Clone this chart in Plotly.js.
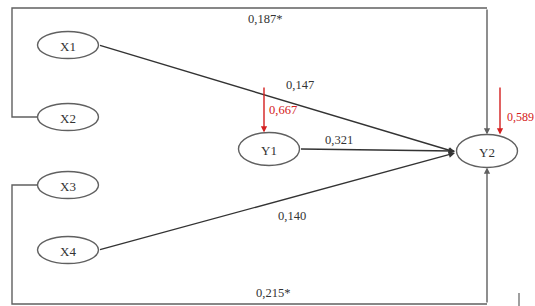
<!DOCTYPE html>
<html>
<head>
<meta charset="utf-8">
<script src="https://cdn.plot.ly/plotly-3.0.1.min.js"></script>
<style>html,body{margin:0;padding:0;background:#fff;overflow:hidden;}#chart{width:535px;height:306px;}</style>
</head>
<body>
<div id="chart"></div>
<script>
// ---- data ----
const nodeNames = ['X1', 'X2', 'X3', 'X4', 'Y1', 'Y2'];
const pathFrom = ['X2', 'X1', 'Y1', 'X4', 'X3'];
const pathTo = ['Y2', 'Y2', 'Y2', 'Y2', 'Y2'];
const pathCoef = ['0,187*', '0,147', '0,321', '0,140', '0,215*'];
const errorNodes = ['Y1', 'Y2'];
const errorCoef = ['0,667', '0,589'];

// ---- layout geometry ----
const pos = {
  X1: [68, 45], X2: [68, 117], X3: [68, 185], X4: [68, 250],
  Y1: [269, 149], Y2: [487, 151]
};
const radii = {X1: [30.5, 13.5], X2: [30.5, 13.5], X3: [30.5, 13.5], X4: [30.5, 13.5], Y1: [30.5, 16.5], Y2: [30.5, 16.5]};
const lineColor = '#606060';
const textColor = '#333';
const serif = 'Liberation Serif, Times New Roman, serif';

const shapes = [];
const annotations = [];
const traces = [];

nodeNames.forEach(n => {
  const [cx, cy] = pos[n];
  const [rx, ry] = radii[n];
  shapes.push({type: 'circle', xref: 'x', yref: 'y', x0: cx - rx, x1: cx + rx, y0: cy - ry, y1: cy + ry,
    line: {color: lineColor, width: 1.4}, fillcolor: 'rgba(0,0,0,0)'});
  annotations.push({x: cx, y: cy + 1, text: n, showarrow: false, font: {family: serif, size: 13, color: textColor}});
});

function seg(xs, ys, w) {
  traces.push({x: xs, y: ys, mode: 'lines', line: {color: lineColor, width: w || 1.4}, hoverinfo: 'skip', showlegend: false});
}
function arrow(tx, ty, hx, hy, color, size) {
  annotations.push({x: hx, y: hy, ax: tx, ay: ty, axref: 'x', ayref: 'y', xref: 'x', yref: 'y', text: '',
    showarrow: true, arrowhead: 2, arrowsize: size || 1, arrowwidth: 1.4, arrowcolor: color, standoff: 0});
}
function label(x, y, t, color, anchor, size) {
  annotations.push({x: x, y: y, text: t, showarrow: false, xanchor: anchor || 'center',
    font: {family: serif, size: size || 12.5, color: color || textColor}});
}

const conv = [455, 152];
const topY = 8, botY = 304, leftX = 12;

pathFrom.forEach((f, i) => {
  const [fx, fy] = pos[f];
  const [rx] = radii[f];
  const [tx, ty] = pos[pathTo[i]];
  const tr = radii[pathTo[i]][1];
  if (f === 'X2') {
    seg([fx - rx, leftX, leftX, tx], [fy, fy, topY, topY]);
    arrow(tx, topY, tx, ty - tr, lineColor, 0.9);
    label(265, 19, pathCoef[i]);
  } else if (f === 'X3') {
    seg([fx - rx, leftX, leftX, tx], [fy, fy, botY, botY]);
    arrow(tx, botY, tx, ty + tr, lineColor, 0.9);
    label(273, 293, pathCoef[i]);
  } else {
    arrow(fx + rx, fy, conv[0], conv[1] + (f === 'X1' ? 0 : (f === 'X4' ? 1 : -1)), '#333', 0.9);
  }
});
label(300, 85, pathCoef[1]);
label(339, 140, pathCoef[2]);
label(292, 216, pathCoef[3]);

// error terms
errorNodes.forEach((n, i) => {
  const [cx, cy] = pos[n];
  const ry = radii[n][1];
  const ex = n === 'Y1' ? cx - 5 : cx + 13;
  arrow(ex, 86, ex, cy - ry, '#d42020', 0.9);
  if (n === 'Y1') label(267, 110, errorCoef[i], '#d42020', 'left');
  else label(505, 117, errorCoef[i], '#d42020', 'left', 12);
});

// small stray tick at bottom right
seg([519, 519], [293, 306], 1.2);

const layout = {
  width: 535, height: 306,
  margin: {l: 0, r: 0, t: 0, b: 0},
  paper_bgcolor: '#fff', plot_bgcolor: '#fff',
  xaxis: {range: [0, 535], visible: false, fixedrange: true},
  yaxis: {range: [306, 0], visible: false, fixedrange: true},
  shapes: shapes, annotations: annotations, showlegend: false
};
Plotly.newPlot('chart', traces, layout, {displayModeBar: false, staticPlot: true});
</script>
</body>
</html>
